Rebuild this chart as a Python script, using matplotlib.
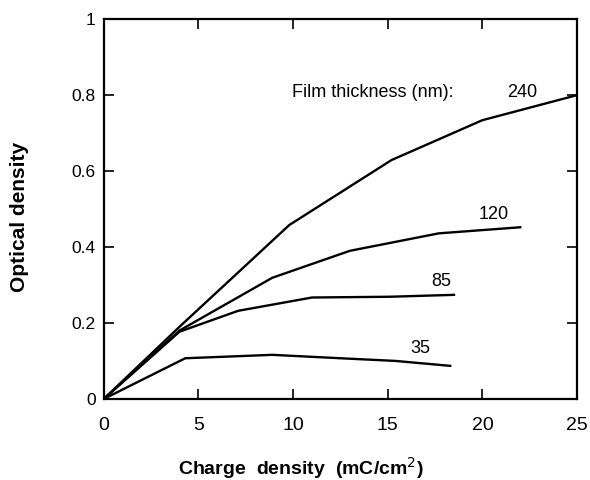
import matplotlib
matplotlib.use('Agg')
import matplotlib.pyplot as plt

plt.rcParams['font.family'] = ['Liberation Sans', 'DejaVu Sans']

# charge density (mC/cm^2) vs optical density, per film thickness
x_240 = [0, 4.0, 9.8, 15.2, 20.0, 25.0]
y_240 = [0, 0.19, 0.458, 0.629, 0.734, 0.80]

x_120 = [0, 4.0, 8.9, 13.0, 17.7, 22.0]
y_120 = [0, 0.18, 0.319, 0.39, 0.436, 0.452]

x_85 = [0, 4.0, 7.1, 11.0, 15.1, 18.5]
y_85 = [0, 0.177, 0.232, 0.267, 0.269, 0.274]

x_35 = [0, 4.3, 8.9, 12.5, 15.4, 18.3]
y_35 = [0, 0.107, 0.116, 0.107, 0.10, 0.087]

thickness_labels = ['240', '120', '85', '35']
label_pos = [(21.3, 0.795), (19.8, 0.474), (17.3, 0.297), (16.2, 0.121)]


def main():
    fig = plt.figure(figsize=(5.9, 4.8), dpi=100)
    ax = fig.add_axes([0.176, 0.169, 0.802, 0.791])

    for xs, ys in [(x_240, y_240), (x_120, y_120), (x_85, y_85), (x_35, y_35)]:
        ax.plot(xs, ys, color='black', lw=1.7, solid_joinstyle='miter')

    for lab, (lx, ly) in zip(thickness_labels, label_pos):
        ax.text(lx, ly, lab, fontsize=13, ha='left', va='baseline')
    ax.text(9.94, 0.795, 'Film thickness (nm):', fontsize=13, ha='left', va='baseline')

    ax.set_xlim(0, 25)
    ax.set_ylim(0, 1)
    ax.set_xticks([0, 5, 10, 15, 20, 25])
    ax.set_yticks([0, 0.2, 0.4, 0.6, 0.8, 1])
    ax.set_yticklabels(['0', '0.2', '0.4', '0.6', '0.8', '1'])
    ax.tick_params(direction='in', top=True, right=True, length=7, width=1.2)
    ax.tick_params(axis='x', labelsize=14, pad=13)
    ax.tick_params(axis='y', labelsize=12.5, pad=6)
    for s in ax.spines.values():
        s.set_linewidth(1.6)

    fig.text(301 / 590, 1 - 468 / 480, 'Charge  density  (mC/cm$^2$)',
             fontsize=14, fontweight='bold', ha='center', va='center')
    fig.text(20 / 590, 1 - 217 / 480, 'Optical density', fontsize=15,
             fontweight='bold', ha='center', va='center', rotation=90)

    fig.savefig('out.png', dpi=100)


if __name__ == "__main__":
    main()
